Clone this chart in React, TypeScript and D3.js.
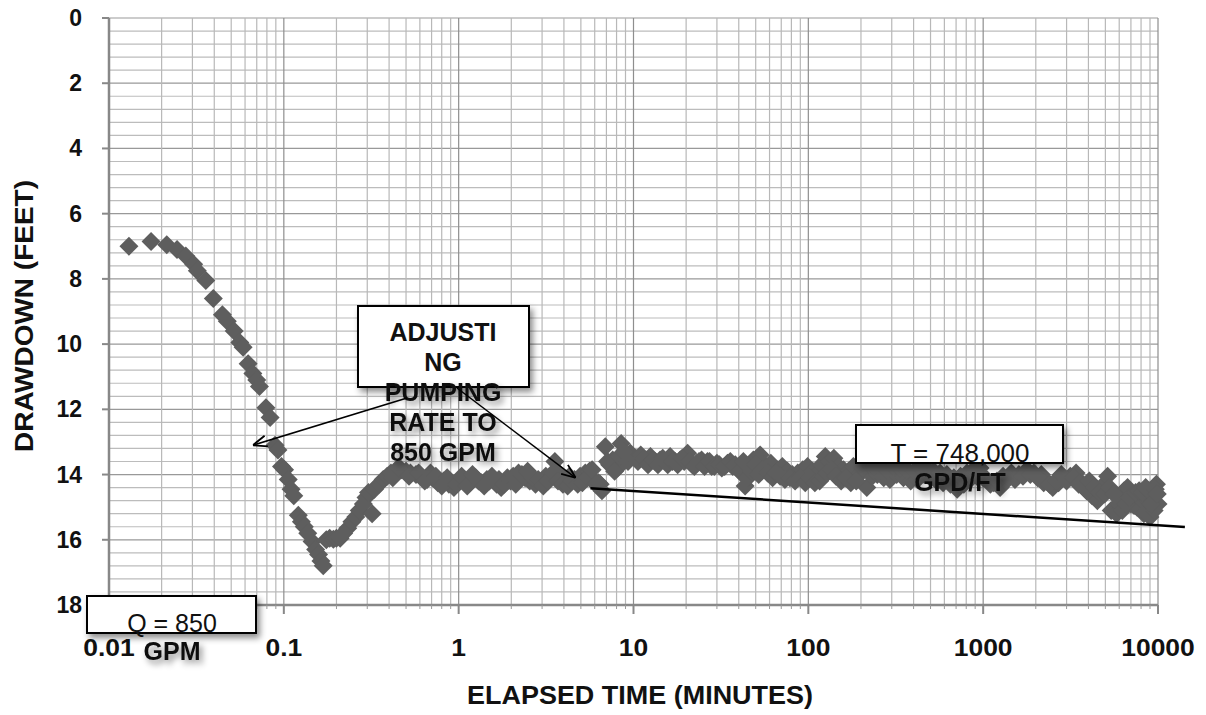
import React from 'react';
import * as d3 from 'd3';

// elapsed time (minutes) and drawdown (feet)
const times = [
  0.013, 0.0174, 0.0214, 0.0245, 0.0275, 0.0305, 0.032, 0.0358, 0.0395, 0.0445,
  0.0475, 0.052, 0.056, 0.0585, 0.0625, 0.0665, 0.07, 0.0725, 0.079, 0.0835,
  0.089, 0.0925, 0.097, 0.101, 0.106, 0.11, 0.114, 0.121, 0.126, 0.131,
  0.137, 0.145, 0.152, 0.158, 0.163, 0.168, 0.175, 0.183, 0.192, 0.2,
  0.21, 0.22, 0.232, 0.245, 0.258, 0.27, 0.285, 0.295, 0.305, 0.32,
  0.33, 0.35, 0.37, 0.39, 0.41, 0.44, 0.47, 0.5, 0.53, 0.57,
  0.61, 0.66, 0.71, 0.76, 0.82, 0.88, 0.94, 1.0, 1.08, 1.16,
  1.25, 1.35, 1.45, 1.55, 1.65, 1.75, 1.9, 2.05, 2.2, 2.4,
  2.55, 2.75, 2.95, 3.15, 3.35, 3.55, 3.8, 4.05, 4.3, 4.6,
  4.95, 5.3, 5.6, 5.95, 6.3, 6.6, 6.9, 7.3, 7.6, 8.1,
  8.5, 9.0, 9.6, 10.3, 11, 11.8, 12.5, 13.3, 14.2, 15.2,
  16.2, 17.3, 18.5, 19.5, 20.4, 21.7, 23, 24.5, 26.5, 28,
  30, 32, 34.5, 37, 39.5, 41.5, 43.5, 46, 48.5, 51,
  53, 56, 61, 64, 67, 71, 76, 81, 87, 93,
  99, 106, 113, 119, 125, 132, 140, 149, 159, 170,
  181, 196, 216, 232, 248, 270, 293, 320, 350, 385,
  420, 460, 500, 545, 590, 650, 710, 775, 840, 920,
  1000, 1050, 1150, 1250, 1350, 1450, 1600, 1780, 1950, 2150,
  2300, 2500, 2700, 2900, 3150, 3400, 3650, 3900, 4200, 4500,
  4800, 5150, 5400, 5800, 6100, 6400, 6700, 7000, 7300, 7600,
  8000, 8300, 8700, 9000, 9300, 9500, 9800, 10000,
  // second pass of readings in the dense band
  0.42, 0.455, 0.52, 0.59, 0.64, 0.69, 0.74, 0.8, 0.86, 0.97,
  1.04, 1.12, 1.2, 1.3, 1.4, 1.5, 1.7, 1.82, 1.98, 2.12,
  2.3, 2.48, 2.65, 2.85, 3.05, 3.25, 3.45, 3.7, 3.95, 4.2,
  4.45, 4.8, 5.1, 5.45, 5.8, 6.1, 6.45, 7.1, 7.8, 8.3,
  8.8, 9.3, 10.6, 11.4, 12.1, 12.9, 13.8, 14.7, 15.7, 16.7,
  17.9, 19, 20.9, 22.3, 23.7, 25.5, 27.2, 29, 31, 33.2,
  35.8, 38.2, 40.5, 42.5, 44.7, 47.2, 49.8, 52, 54.5, 58.5,
  62.5, 65.5, 69, 73.5, 78.5, 84, 90, 96, 102, 109,
  116, 122, 128, 136, 144, 154, 164, 175, 188, 205,
  224, 240, 259, 281, 306, 335, 367, 402, 440, 480,
  522, 567, 620, 680, 742, 808, 880, 960, 1100, 1200,
  1300, 1400, 1520, 1690, 1860, 2050, 2220, 2400, 2600, 2800,
  3000, 3280, 3520, 3770, 4050, 4350, 4650, 4950, 5280, 5600,
  5950, 6250, 6550, 6850, 7150, 7450, 7800, 8150, 8500, 8850,
  9150, 9650, 9900,
];
const drawdown = [
  7.0, 6.85, 6.95, 7.1, 7.3, 7.55, 7.75, 8.05, 8.6, 9.1,
  9.3, 9.6, 9.95, 10.1, 10.6, 10.9, 11.1, 11.3, 11.95, 12.25,
  13.1, 13.25, 13.75, 13.85, 14.15, 14.45, 14.65, 15.25, 15.45, 15.6,
  15.8, 16.05, 16.3, 16.45, 16.65, 16.8, 16.0, 15.95, 15.98, 15.95,
  15.95, 15.8, 15.65, 15.45, 15.3, 15.1, 14.9, 14.7, 14.55, 15.2,
  14.45, 14.3, 14.15, 14.05, 13.95, 13.85, 13.85, 13.9, 13.95, 14.0,
  14.05, 14.15, 14.1, 14.25, 14.2, 14.3, 14.4, 14.2, 14.15, 14.25,
  14.1, 14.25, 14.15, 14.05, 14.3, 14.4, 14.1, 14.05, 13.95, 14.1,
  14.2, 14.3, 14.25, 14.05, 14.1, 13.6, 14.0, 14.2, 14.05, 14.15,
  14.05, 13.95, 13.9, 14.2, 14.25, 14.5, 13.15, 13.7, 13.55, 13.8,
  13.05, 13.4, 13.35, 13.5, 13.4, 13.55, 13.45, 13.6, 13.55, 13.6,
  13.45, 13.6, 13.55, 13.6, 13.35, 13.7, 13.65, 13.55, 13.6, 13.75,
  13.65, 13.8, 13.65, 13.75, 13.8, 13.95, 14.35, 14.05, 13.55, 13.5,
  13.4, 13.7, 13.65, 13.8, 13.85, 13.75, 13.9, 14.0, 13.95, 13.85,
  13.75, 13.9, 13.95, 13.7, 13.45, 13.6, 13.5, 13.75, 13.85, 13.9,
  13.75, 14.0, 14.4, 14.05, 14.0, 14.1, 14.15, 14.0, 14.1, 14.2,
  14.15, 14.0, 14.1, 14.2, 14.25, 14.3, 14.45, 14.3, 14.15, 14.05,
  14.1, 14.15, 14.25, 14.4, 14.2, 13.95, 14.0, 13.85, 13.95, 14.0,
  14.2, 14.4, 14.25, 14.1, 14.05, 13.95, 14.25, 14.5, 14.65, 14.8,
  14.35, 14.05, 15.1, 15.2, 14.7, 14.5, 14.4, 14.9, 14.95, 15.0,
  14.75, 15.2, 14.8, 15.3, 14.6, 15.1, 14.3, 14.9,
  // second pass
  14.1, 13.8, 14.05, 13.95, 14.2, 13.95, 14.05, 14.35, 14.1, 14.3,
  14.05, 14.35, 14.0, 14.2, 14.35, 14.2, 14.15, 14.3, 14.2, 14.3,
  14.0, 13.9, 14.1, 14.15, 14.35, 14.2, 13.95, 14.2, 14.3, 14.35,
  14.2, 14.3, 14.25, 14.1, 13.85, 14.3, 14.3, 13.6, 13.9, 13.45,
  13.3, 13.6, 13.6, 13.5, 13.7, 13.55, 13.7, 13.5, 13.7, 13.6,
  13.7, 13.5, 13.6, 13.75, 13.6, 13.75, 13.6, 13.75, 13.7, 13.75,
  13.6, 13.7, 13.9, 13.6, 14.1, 13.9, 13.7, 14.0, 13.85, 13.95,
  14.1, 13.95, 14.05, 14.15, 14.1, 14.2, 14.1, 14.25, 14.1, 14.25,
  14.2, 14.05, 13.95, 13.85, 14.05, 14.2, 14.1, 14.25, 14.2, 13.8,
  13.7, 13.75, 13.8, 13.85, 13.75, 13.8, 13.85, 13.9, 13.8, 13.85,
  13.9, 13.95, 14.0, 14.1, 14.05, 13.95, 13.85, 13.8, 14.3, 14.2,
  14.05, 14.1, 14.15, 14.05, 14.0, 14.1, 14.25, 14.3, 14.2, 14.0,
  14.2, 14.1, 14.3, 14.4, 14.2, 14.4, 14.55, 14.6, 14.4, 14.6,
  14.9, 15.1, 14.9, 14.7, 14.6, 14.55, 14.5, 14.55, 14.4, 14.5,
  14.9, 14.45, 14.6,
];

const xTickValues = [0.01, 0.1, 1, 10, 100, 1000, 10000];
const xTickLabels = ['0.01', '0.1', '1', '10', '100', '1000', '10000'];
const yTickValues = [0, 2, 4, 6, 8, 10, 12, 14, 16, 18];

// annotations
const adjustLines = ['ADJUSTI', 'NG', 'PUMPING', 'RATE TO', '850 GPM'];
const qLines = ['Q = 850', 'GPM'];
const tLines = ['T = 748,000', 'GPD/FT'];
const trendStart = [5.67, 14.42];
const trendEnd = [14250, 15.61];
const arrowTips = [[0.0665, 13.1], [4.67, 14.1]];

const FONT = '"Liberation Sans", Arial, sans-serif';

export default function App() {
  const W = 1206, H = 715;
  const x = d3.scaleLog().domain([0.01, 10000]).range([109, 1158]);
  const y = d3.scaleLinear().domain([0, 18]).range([18, 605]);

  const minorY = d3.range(0, 18.001, 0.4);
  const minorX: number[] = [];
  for (let e = -2; e < 4; e++) {
    for (let k = 2; k <= 9; k++) minorX.push(k * Math.pow(10, e));
  }

  const pts = times.map((t, i) => [t, drawdown[i]]);
  const r = 9.5;
  const diamond = `M0,${-r}L${r},0L0,${r}L${-r},0Z`;

  const [x0, x1] = x.range();
  const [y0, y1] = y.range();

  // arrow origin near the PUMPING line of the label
  const arrowFrom = [[407, 398], [457, 388]];

  return (
    <svg width={W} height={H} style={{ position: 'absolute', left: 0, top: 0, background: '#fff' }}
      fontFamily={FONT}>
      <defs>
        <filter id="shadow" x="-20%" y="-30%" width="150%" height="180%">
          <feDropShadow dx="3" dy="4" stdDeviation="3" floodColor="#000" floodOpacity="0.45" />
        </filter>
        <marker id="arrow" viewBox="0 0 10 10" refX="10" refY="5" markerWidth="14" markerHeight="14"
          markerUnits="userSpaceOnUse" orient="auto">
          <path d="M0,1L10,5L0,9" fill="none" stroke="#000" strokeWidth="1.3" />
        </marker>
      </defs>
      <rect width={W} height={H} fill="#fff" />

      {/* grid */}
      <g>
        {minorY.map((v, i) => (
          <line key={'h' + i} x1={x0} x2={x1} y1={y(v)} y2={y(v)}
            stroke={i % 5 === 0 ? '#999' : '#bcbcbc'} strokeWidth={1.2} />
        ))}
        {minorX.map((v, i) => (
          <line key={'v' + i} x1={x(v)} x2={x(v)} y1={y0} y2={y1} stroke="#b8b8b8" strokeWidth={1.2} />
        ))}
        {xTickValues.map((v, i) => (
          <line key={'V' + i} x1={x(v)} x2={x(v)} y1={y0} y2={y1} stroke="#8e8e8e" strokeWidth={1.2} />
        ))}
      </g>

      {/* axes */}
      <line x1={x0} x2={x0} y1={y0} y2={y1} stroke="#888" strokeWidth={2.5} />
      <line x1={x0} x2={x1} y1={y1} y2={y1} stroke="#888" strokeWidth={2.5} />
      {yTickValues.map((v) => (
        <line key={'yt' + v} x1={x0 - 7} x2={x0} y1={y(v)} y2={y(v)} stroke="#888" strokeWidth={2} />
      ))}
      {xTickValues.map((v) => (
        <line key={'xt' + v} x1={x(v)} x2={x(v)} y1={y1} y2={y1 + 9} stroke="#888" strokeWidth={2} />
      ))}
      {minorX.map((v, i) => (
        <line key={'xm' + i} x1={x(v)} x2={x(v)} y1={y1} y2={y1 + 4} stroke="#999" strokeWidth={1} />
      ))}

      {/* tick labels */}
      {yTickValues.map((v) => (
        <text key={'yl' + v} x={82} y={y(v) + 8} textAnchor="end" fontSize={23} fontWeight="bold" fill="#111">
          {v}
        </text>
      ))}
      {xTickValues.map((v, i) => (
        <text key={'xl' + v} transform={`translate(${x(v)},656) scale(1.15,1)`} textAnchor="middle"
          fontSize={23} fontWeight="bold" fill="#111">
          {xTickLabels[i]}
        </text>
      ))}

      {/* axis titles */}
      <text transform="translate(33,316) rotate(-90)" textAnchor="middle" fontSize={25} fontWeight="bold"
        fill="#111" textLength={272} lengthAdjust="spacingAndGlyphs">
        DRAWDOWN (FEET)
      </text>
      <text x={640} y={704} textAnchor="middle" fontSize={25} fontWeight="bold" fill="#111"
        textLength={346} lengthAdjust="spacingAndGlyphs">
        ELAPSED TIME (MINUTES)
      </text>

      {/* data */}
      <g fill="#5e5e5e">
        {pts.map((p, i) => (
          <path key={'p' + i} d={diamond} transform={`translate(${x(p[0])},${y(p[1])})`} />
        ))}
      </g>

      {/* trend line */}
      <line x1={x(trendStart[0])} y1={y(trendStart[1])} x2={x(trendEnd[0])} y2={y(trendEnd[1])}
        stroke="#000" strokeWidth={2.5} />

      {/* Q label */}
      <rect x={87} y={596} width={169} height={37} fill="#fff" stroke="#000" strokeWidth={2} filter="url(#shadow)" />
      <text x={172} y={632} textAnchor="middle" fontSize={25} fill="#111">{qLines[0]}</text>
      <text x={172} y={660} textAnchor="middle" fontSize={25} fontWeight="bold" fill="#111" filter="url(#shadow)">{qLines[1]}</text>

      {/* T label */}
      <rect x={856} y={425} width={207} height={38} fill="#fff" stroke="#000" strokeWidth={2} filter="url(#shadow)" />
      <text x={960} y={462} textAnchor="middle" fontSize={26} fill="#111">{tLines[0]}</text>
      <text x={960} y={491} textAnchor="middle" fontSize={25} fontWeight="bold" fill="#111" filter="url(#shadow)">{tLines[1]}</text>

      {/* adjusting label */}
      <rect x={358} y={306} width={171} height={81} fill="#fff" stroke="#000" strokeWidth={2} filter="url(#shadow)" />
      {adjustLines.map((s, i) => (
        <text key={'a' + i} x={443} y={341 + i * 30} textAnchor="middle" fontSize={25} fontWeight="bold"
          fill="#111" filter={i >= 2 ? 'url(#shadow)' : undefined}>
          {s}
        </text>
      ))}
      {arrowTips.map((tip, i) => (
        <line key={'ar' + i} x1={arrowFrom[i][0]} y1={arrowFrom[i][1]} x2={x(tip[0])} y2={y(tip[1])}
          stroke="#000" strokeWidth={1.5} markerEnd="url(#arrow)" />
      ))}
    </svg>
  );
}
